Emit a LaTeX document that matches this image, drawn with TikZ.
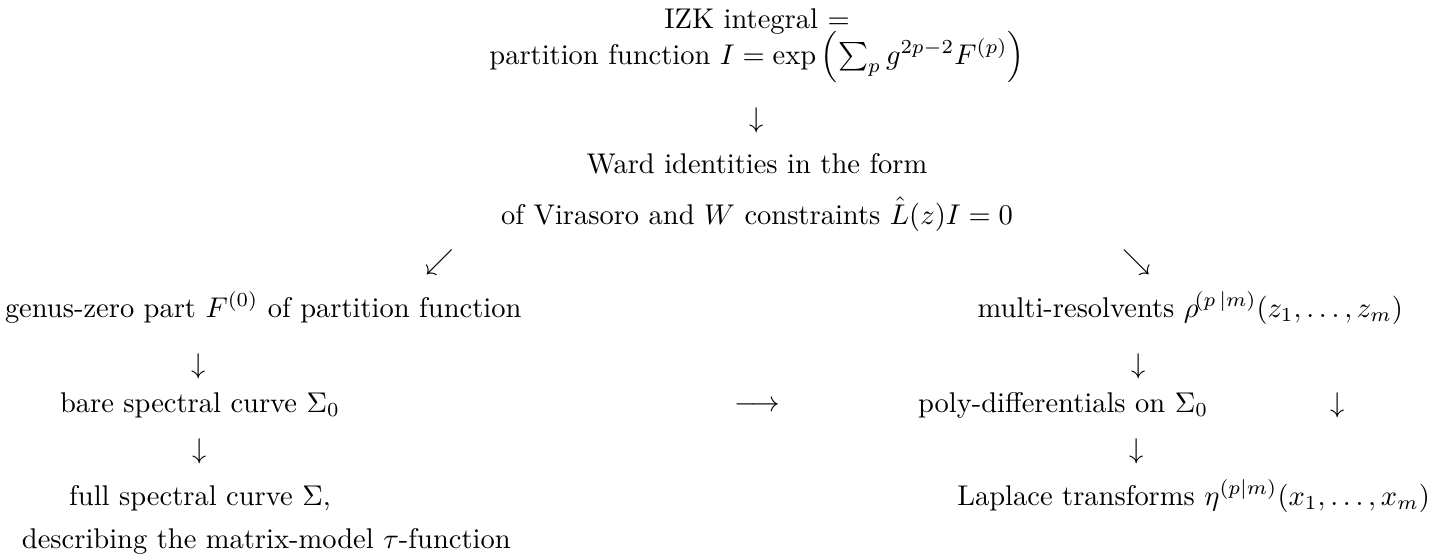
\documentclass[tikz,border=0pt]{standalone}
\usepackage{amsmath,amssymb}
\usepackage{tikz}
\usetikzlibrary{positioning}

\begin{document}
\begin{tikzpicture}[x=0.3509pt, y=-0.3509pt,
  txt/.style={anchor=base, inner sep=0pt, outer sep=0pt},
  txtl/.style={txt, anchor=base west},
  txtr/.style={txt, anchor=base east},
  arr/.style={txt}]
  \useasboundingbox (0,0) rectangle (1447,556);
  % top column
  \node[txt] (izk) at (757,28) {IZK integral $=$};
  \node[txt] (part) at (757,64) {partition function $I=\exp\left(\sum_p g^{2p-2}F^{(p)}\right)$};
  \node[arr] (d1) at (757,127) {$\downarrow$};
  \node[txt] (ward) at (757,173) {Ward identities in the form};
  \node[txt] (vir) at (757,224) {of Virasoro and $W$ constraints $\hat{L}(z)I=0$};
  \node[arr] (sw) at (440,269) {$\swarrow$};
  \node[arr] (se) at (1137,269) {$\searrow$};
  % left column
  \node[txtl] (genus) at (5,317) {genus-zero part $F^{(0)}$ of partition function};
  \node[arr] (d2) at (199,373) {$\downarrow$};
  \node[txt] (bare) at (200,412) {bare spectral curve $\Sigma_0$};
  \node[arr] (d5) at (200,458) {$\downarrow$};
  \node[txt] (full) at (200,505) {full spectral curve $\Sigma$,};
  \node[txtl] (desc) at (22,548) {describing the matrix-model $\tau$-function};
  % middle
  \node[arr] (lra) at (757,411) {$\longrightarrow$};
  % right column
  \node[txtr] (multi) at (1403,317) {multi-resolvents $\rho^{\!(p\,|m)}(z_1,\ldots,z_m)$};
  \node[arr] (d3) at (1139,373) {$\downarrow$};
  \node[txtl] (poly) at (918,412) {poly-differentials on $\Sigma_0$};
  \node[arr] (d4) at (1338,412) {$\downarrow$};
  \node[arr] (d6) at (1137,458) {$\downarrow$};
  \node[txtr] (lap) at (1430,505) {Laplace transforms $\eta^{(p|m)}(x_1,\ldots,x_m)$};
\end{tikzpicture}
\end{document}
